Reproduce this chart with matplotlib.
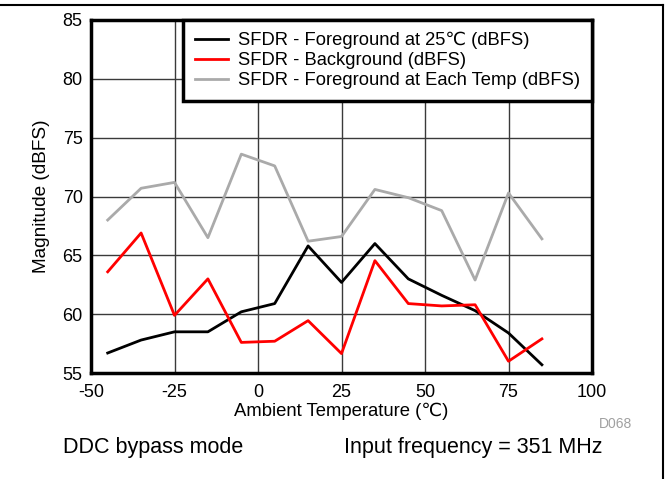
import matplotlib.pyplot as plt
from matplotlib.lines import Line2D

plt.rcParams['font.family'] = ['Liberation Sans', 'DejaVu Sans']
plt.rcParams['axes.unicode_minus'] = False

# Temperaturpunkte
temp = [-45, -35, -25, -15, -5, 5, 15, 25, 35, 45, 55, 65, 75, 85]

# SFDR-Werte (dBFS)
fg_25c = [56.7, 57.8, 58.5, 58.5, 60.2, 60.9, 65.8, 62.7, 66.0, 63.0, 61.6, 60.3, 58.4, 55.7]
background = [63.6, 66.9, 59.9, 63.0, 57.6, 57.7, 59.45, 56.65, 64.55, 60.9, 60.7, 60.8, 56.0, 57.9]
fg_each = [68.0, 70.7, 71.2, 66.5, 73.6, 72.6, 66.2, 66.6, 70.6, 69.9, 68.8, 62.9, 70.3, 66.4]

labels = ['SFDR - Foreground at 25\u2103 (dBFS)',
          'SFDR - Background (dBFS)',
          'SFDR - Foreground at Each Temp (dBFS)']

xticks = [-50, -25, 0, 25, 50, 75, 100]
yticks = [55, 60, 65, 70, 75, 80, 85]

fig = plt.figure(figsize=(6.69, 4.79), dpi=100)
ax = fig.add_axes([91/669, 1 - 373/479, 501/669, 353/479])

ax.plot(temp, fg_25c, color='black', lw=2, label=labels[0])
ax.plot(temp, background, color='#ff0000', lw=2, label=labels[1])
ax.plot(temp, fg_each, color='#aaaaaa', lw=2, label=labels[2])

ax.set_xlim(-50, 100)
ax.set_ylim(55, 85)
ax.set_xticks(xticks)
ax.set_yticks(yticks)
ax.tick_params(length=0, labelsize=13)
ax.tick_params(axis='x', pad=8)
ax.tick_params(axis='y', pad=6)
ax.grid(True, color='#3a3a3a', lw=1)
ax.set_axisbelow(True)
for s in ax.spines.values():
    s.set_linewidth(2.5)

ax.set_xlabel('Ambient Temperature (\u2103)', fontsize=13.3, labelpad=1)
ax.set_ylabel('Magnitude (dBFS)', fontsize=13.7, labelpad=9)

leg = ax.legend(loc='upper right', fontsize=13.2, frameon=True, fancybox=False,
                borderaxespad=0, handlelength=1.8, labelspacing=0.16,
                borderpad=0.65, handletextpad=0.55)
leg.get_frame().set_edgecolor('black')
leg.get_frame().set_linewidth(2.5)
leg.get_frame().set_alpha(1)

fig.text(632/669, 1 - 424/479, 'D068', color='#a0a0a0', fontsize=10, ha='right', va='center')
fig.text(63/669, 1 - 447/479, 'DDC bypass mode', fontsize=15.5, ha='left', va='center')
fig.text(603/669, 1 - 447/479, 'Input frequency = 351 MHz', fontsize=15.5, ha='right', va='center')

# Rahmen oben und rechts
fig.add_artist(Line2D([0, 663/669], [1 - 5/479, 1 - 5/479], color='black', lw=1.5))
fig.add_artist(Line2D([663/669, 663/669], [1 - 5/479, 0], color='black', lw=1.5))

fig.savefig('out.png', dpi=100)
